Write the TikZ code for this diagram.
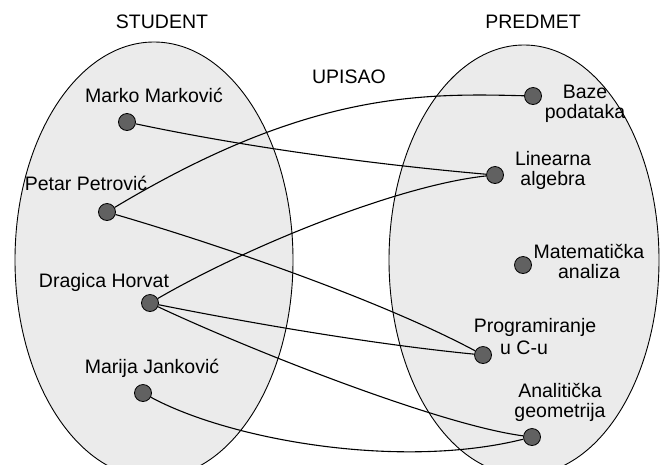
\documentclass[tikz,border=0pt]{standalone}
\usepackage{fontspec}
\setmainfont{Liberation Sans}
\begin{document}
\begin{tikzpicture}[x=1pt,y=-1pt,
  dot/.style={circle,draw=black,fill=black!62,line width=0.8pt,minimum size=17pt,inner sep=0pt},
  lab/.style={font=\fontsize{19.5}{20}\selectfont,inner sep=0pt,align=center},
  setshape/.style={draw=black,line width=0.9pt,fill=black!8},
  link/.style={line width=1.1pt}]
\useasboundingbox (0,0) rectangle (660,464);
\begin{scope}
\clip (0,0) rectangle (660,464);
\draw[setshape] (154,260) ellipse [x radius=139, y radius=218];
\draw[setshape] (524,260) ellipse [x radius=135, y radius=215];
\end{scope}
% headings
\node[lab] (student) at (162,22) {STUDENT};
\node[lab] (predmet) at (533,22) {PREDMET};
\node[lab] (upisao) at (349,77) {UPISAO};
% students
\node[dot] (marko) at (127,122) {};
\node[dot] (petar) at (107,212) {};
\node[dot] (dragica) at (150,303) {};
\node[dot] (marija) at (143,393) {};
\node[lab] (markol) at (154,95) {Marko Marković};
\node[lab] (petarl) at (86,183) {Petar Petrović};
\node[lab] (dragical) at (104,282) {Dragica Horvat};
\node[lab] (marijal) at (152,368) {Marija Janković};
% subjects
\node[dot] (baze) at (533,96) {};
\node[dot] (lin) at (495,175) {};
\node[dot] (mat) at (523,265) {};
\node[dot] (prog) at (483,355) {};
\node[dot] (anal) at (532,437) {};
\node[lab] (bazel) at (585,104) {Baze\\podataka};
\node[lab] (linl) at (553,170) {Linearna\\algebra};
\node[lab] (matl) at (589,261) {Matematička\\analiza};
\node[lab] (progl) at (535,327) {Programiranje};
\node[lab,anchor=base west] (progl2) at (500,354) {u C-u};
\node[lab] (anall) at (560,402) {Analitička\\geometrija};
% connectors
\draw[link] (marko) .. controls (250,148) and (380,165) .. (lin);
\draw[link] (petar) .. controls (307,92) and (420,93) .. (baze);
\draw[link] (petar) .. controls (220,245) and (380,300) .. (prog);
\draw[link] (dragica) .. controls (250,245) and (400,185) .. (lin);
\draw[link] (dragica) .. controls (260,325) and (380,345) .. (prog);
\draw[link] (dragica) .. controls (250,350) and (440,425) .. (anal);
\draw[link] (marija) .. controls (230,440) and (400,470) .. (anal);
\end{tikzpicture}
\end{document}
